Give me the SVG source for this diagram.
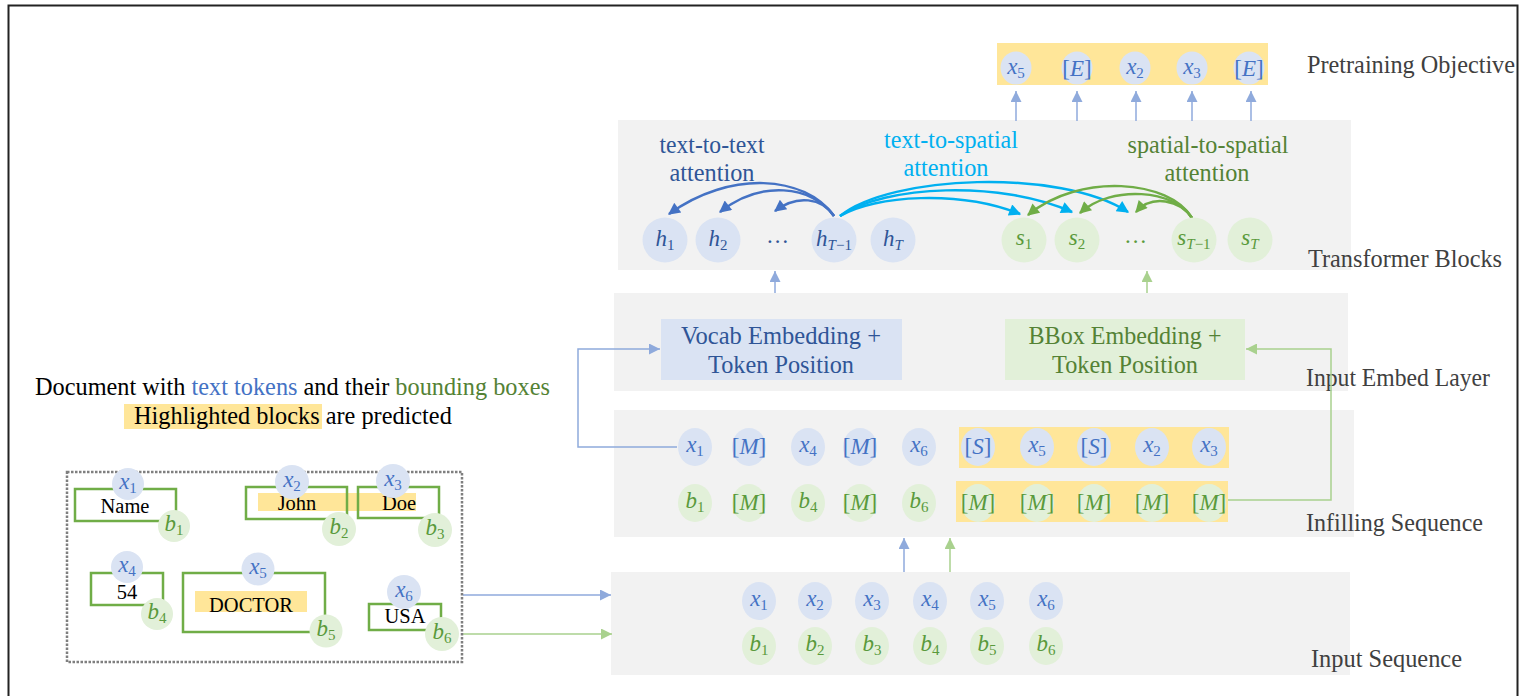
<svg xmlns="http://www.w3.org/2000/svg" width="1524" height="696" viewBox="0 0 1524 696">
<defs>
<style>
.lbl{font-family:"Liberation Serif","Times New Roman",serif;font-size:25px;fill:#404040}
.gbox{fill:#F2F2F2}
.cb{fill:#DAE3F3}
.cg{fill:#E2F0D9}
.m{font-family:"Liberation Serif","Times New Roman",serif;font-style:italic;font-size:23px;text-anchor:middle}
.tb{fill:#4472C4}
.td{fill:#2F5597}
.tg{fill:#5A9A3C}
.s{font-size:15px;font-style:normal}
.si{font-size:15px;font-style:italic}
.n{font-style:normal}
.yl{fill:#FFE699}
.bx{fill:none;stroke:#70AD47;stroke-width:2.5}
.doc{font-family:"Liberation Serif","Times New Roman",serif;font-size:20.5px;fill:#000;text-anchor:middle}
.att{font-family:"Liberation Serif","Times New Roman",serif;font-size:26px;text-anchor:middle}
.emb{font-family:"Liberation Serif","Times New Roman",serif;font-size:26px;text-anchor:middle}
.cap{font-family:"Liberation Serif","Times New Roman",serif;font-size:24.3px;fill:#000}
.lb{fill:none;stroke:#8FAADC;stroke-width:1.5}
.lg{fill:none;stroke:#A9D18E;stroke-width:1.5}
.at{fill:none;stroke:#4472C4;stroke-width:2.5}
.ac{fill:none;stroke:#00B0F0;stroke-width:2.5}
.as{fill:none;stroke:#70AD47;stroke-width:2.5}
</style>
<marker id="mB" viewBox="0 0 10 10" refX="10" refY="5" markerWidth="11" markerHeight="11" markerUnits="userSpaceOnUse" orient="auto"><path d="M0,0 L10,5 L0,10 z" fill="#8FAADC"/></marker>
<marker id="mG" viewBox="0 0 10 10" refX="10" refY="5" markerWidth="11" markerHeight="11" markerUnits="userSpaceOnUse" orient="auto"><path d="M0,0 L10,5 L0,10 z" fill="#A9D18E"/></marker>
<marker id="aT" viewBox="0 0 10 10" refX="9" refY="5" markerWidth="14" markerHeight="12" markerUnits="userSpaceOnUse" orient="auto"><path d="M0,0 L10,5 L0,10 z" fill="#4472C4"/></marker>
<marker id="aC" viewBox="0 0 10 10" refX="9" refY="5" markerWidth="14" markerHeight="12" markerUnits="userSpaceOnUse" orient="auto"><path d="M0,0 L10,5 L0,10 z" fill="#00B0F0"/></marker>
<marker id="aS" viewBox="0 0 10 10" refX="9" refY="5" markerWidth="14" markerHeight="12" markerUnits="userSpaceOnUse" orient="auto"><path d="M0,0 L10,5 L0,10 z" fill="#70AD47"/></marker>
</defs>
<rect x="0" y="0" width="1524" height="696" fill="#FFFFFF"/>
<rect x="8.5" y="5.5" width="1509" height="720" fill="none" stroke="#222" stroke-width="2"/>

<g id="transformer-blocks">
<rect class="gbox" x="618" y="120" width="733" height="150"/>
<text class="lbl" x="1308" y="267" textLength="194" lengthAdjust="spacingAndGlyphs">Transformer Blocks</text>
</g>
<g id="input-embed-layer">
<rect class="gbox" x="614" y="293" width="734" height="98"/>
<text class="lbl" x="1306" y="386" textLength="184" lengthAdjust="spacingAndGlyphs">Input Embed Layer</text>
</g>
<g id="infilling-sequence">
<rect class="gbox" x="614" y="410" width="740" height="127"/>
<rect class="yl" x="959" y="427" width="270" height="41"/>
<rect class="yl" x="956" y="481" width="272" height="41"/>
<text class="lbl" x="1306" y="531" textLength="177" lengthAdjust="spacingAndGlyphs">Infilling Sequence</text>
</g>
<g id="input-sequence">
<rect class="gbox" x="611" y="572" width="739" height="103"/>
<text class="lbl" x="1311" y="667" textLength="151" lengthAdjust="spacingAndGlyphs">Input Sequence</text>
</g>

<g id="connectors">
<path class="lb" d="M1016,121 V91" marker-end="url(#mB)"/>
<path class="lb" d="M1077,121 V91" marker-end="url(#mB)"/>
<path class="lb" d="M1136,121 V91" marker-end="url(#mB)"/>
<path class="lb" d="M1192,121 V91" marker-end="url(#mB)"/>
<path class="lb" d="M1251,121 V91" marker-end="url(#mB)"/>
<path class="lb" d="M775,293 V271" marker-end="url(#mB)"/>
<path class="lg" d="M1147,293 V271" marker-end="url(#mG)"/>
<path class="lb" d="M677,447 H578 V349 H660" marker-end="url(#mB)"/>
<path class="lg" d="M1228,500 H1331 V349 H1246" marker-end="url(#mG)"/>
<path class="lb" d="M904,572 V538" marker-end="url(#mB)"/>
<path class="lg" d="M950,572 V538" marker-end="url(#mG)"/>
<path class="lb" d="M463,595 H611" marker-end="url(#mB)"/>
<path class="lg" d="M463,634 H612" marker-end="url(#mG)"/>
<path class="at" d="M834,216 C805,175 730,170 669,214" marker-end="url(#aT)"/>
<path class="at" d="M834,216 C812,185 760,180 720,212" marker-end="url(#aT)"/>
<path class="at" d="M834,216 C822,198 797,194 775,211" marker-end="url(#aT)"/>
<path class="ac" d="M840,216 C875,195 960,190 1020,214" marker-end="url(#aC)"/>
<path class="ac" d="M840,216 C885,185 1000,180 1072,212" marker-end="url(#aC)"/>
<path class="ac" d="M840,216 C890,175 1060,168 1128,212" marker-end="url(#aC)"/>
<path class="as" d="M1192,218 C1180,200 1152,194 1136,212" marker-end="url(#aS)"/>
<path class="as" d="M1192,218 C1175,190 1112,184 1080,213" marker-end="url(#aS)"/>
<path class="as" d="M1192,218 C1170,180 1080,172 1028,215" marker-end="url(#aS)"/>
</g>

<g id="pretraining-objective">
<rect class="yl" x="997" y="43" width="271" height="42"/>
<ellipse class="cb" cx="1016" cy="68" rx="15.5" ry="16.5"/>
<ellipse class="cb" cx="1077" cy="68" rx="15.5" ry="16.5"/>
<ellipse class="cb" cx="1135" cy="68" rx="15.5" ry="16.5"/>
<ellipse class="cb" cx="1192" cy="68" rx="15.5" ry="16.5"/>
<ellipse class="cb" cx="1249" cy="68" rx="15.5" ry="16.5"/>
<text class="m tb" x="1016" y="74">x<tspan class="s" dy="4">5</tspan></text>
<text class="m tb" x="1077" y="76" font-size="21"><tspan class="n">[</tspan>E<tspan class="n">]</tspan></text>
<text class="m tb" x="1135" y="74">x<tspan class="s" dy="4">2</tspan></text>
<text class="m tb" x="1192" y="74">x<tspan class="s" dy="4">3</tspan></text>
<text class="m tb" x="1249" y="76" font-size="21"><tspan class="n">[</tspan>E<tspan class="n">]</tspan></text>
<text class="lbl" x="1307" y="73" textLength="208" lengthAdjust="spacingAndGlyphs">Pretraining Objective</text>
</g>

<g id="label-text-to-text">
<text class="att td" x="712" y="153" textLength="105" lengthAdjust="spacingAndGlyphs">text-to-text</text>
<text class="att td" x="712" y="181" textLength="85" lengthAdjust="spacingAndGlyphs">attention</text>
</g>
<g id="label-text-to-spatial">
<text class="att" fill="#00B0F0" x="951" y="148" textLength="134" lengthAdjust="spacingAndGlyphs">text-to-spatial</text>
<text class="att" fill="#00B0F0" x="946" y="176" textLength="85" lengthAdjust="spacingAndGlyphs">attention</text>
</g>
<g id="label-spatial-to-spatial">
<text class="att" fill="#548235" x="1208" y="153" textLength="161" lengthAdjust="spacingAndGlyphs">spatial-to-spatial</text>
<text class="att" fill="#548235" x="1207" y="181" textLength="85" lengthAdjust="spacingAndGlyphs">attention</text>
</g>

<g id="h-states">
<circle class="cb" cx="665" cy="240" r="22.5"/>
<circle class="cb" cx="718" cy="240" r="22.5"/>
<circle class="cb" cx="834" cy="240" r="22.5"/>
<circle class="cb" cx="893" cy="240" r="22.5"/>
<text class="m td" x="665" y="246" font-size="24">h<tspan class="s" dy="4">1</tspan></text>
<text class="m td" x="718" y="246" font-size="24">h<tspan class="s" dy="4">2</tspan></text>
<text class="m td" x="778" y="243" font-size="22">…</text>
<text class="m td" x="834" y="246" font-size="24">h<tspan class="si" dy="4">T</tspan><tspan class="s">−1</tspan></text>
<text class="m td" x="893" y="246" font-size="24">h<tspan class="si" dy="4">T</tspan></text>
</g>
<g id="s-states">
<circle class="cg" cx="1024" cy="240" r="22.5"/>
<circle class="cg" cx="1077" cy="240" r="22.5"/>
<circle class="cg" cx="1194" cy="240" r="22.5"/>
<circle class="cg" cx="1250" cy="240" r="22.5"/>
<text class="m tg" x="1024" y="245" font-size="24">s<tspan class="s" dy="4">1</tspan></text>
<text class="m tg" x="1077" y="245" font-size="24">s<tspan class="s" dy="4">2</tspan></text>
<text class="m tg" x="1136" y="243" font-size="22">…</text>
<text class="m tg" x="1194" y="245" font-size="24">s<tspan class="si" dy="4">T</tspan><tspan class="s">−1</tspan></text>
<text class="m tg" x="1250" y="245" font-size="24">s<tspan class="si" dy="4">T</tspan></text>
</g>

<g id="vocab-embedding">
<rect class="cb" x="661" y="319" width="241" height="61"/>
<text class="emb td" x="781" y="344" textLength="200" lengthAdjust="spacingAndGlyphs">Vocab Embedding +</text>
<text class="emb td" x="781" y="373" textLength="146" lengthAdjust="spacingAndGlyphs">Token Position</text>
</g>
<g id="bbox-embedding">
<rect class="cg" x="1005" y="319" width="240" height="61"/>
<text class="emb" fill="#548235" x="1125" y="344" textLength="193" lengthAdjust="spacingAndGlyphs">BBox Embedding +</text>
<text class="emb" fill="#548235" x="1125" y="373" textLength="146" lengthAdjust="spacingAndGlyphs">Token Position</text>
</g>

<g id="infill-text-row">
<ellipse class="cb" cx="695" cy="447" rx="17" ry="19"/>
<ellipse class="cb" cx="749" cy="447" rx="17" ry="19"/>
<ellipse class="cb" cx="808" cy="447" rx="17" ry="19"/>
<ellipse class="cb" cx="860" cy="447" rx="17" ry="19"/>
<ellipse class="cb" cx="919" cy="447" rx="17" ry="19"/>
<ellipse class="cb" cx="978" cy="447" rx="17" ry="19"/>
<ellipse class="cb" cx="1037" cy="447" rx="17" ry="19"/>
<ellipse class="cb" cx="1094" cy="447" rx="17" ry="19"/>
<ellipse class="cb" cx="1152" cy="447" rx="17" ry="19"/>
<ellipse class="cb" cx="1209" cy="447" rx="17" ry="19"/>
<text class="m tb" x="695" y="452">x<tspan class="s" dy="4">1</tspan></text>
<text class="m tb" x="749" y="454" font-size="21"><tspan class="n">[</tspan>M<tspan class="n">]</tspan></text>
<text class="m tb" x="808" y="452">x<tspan class="s" dy="4">4</tspan></text>
<text class="m tb" x="860" y="454" font-size="21"><tspan class="n">[</tspan>M<tspan class="n">]</tspan></text>
<text class="m tb" x="919" y="452">x<tspan class="s" dy="4">6</tspan></text>
<text class="m tb" x="978" y="454" font-size="21"><tspan class="n">[</tspan>S<tspan class="n">]</tspan></text>
<text class="m tb" x="1037" y="452">x<tspan class="s" dy="4">5</tspan></text>
<text class="m tb" x="1094" y="454" font-size="21"><tspan class="n">[</tspan>S<tspan class="n">]</tspan></text>
<text class="m tb" x="1152" y="452">x<tspan class="s" dy="4">2</tspan></text>
<text class="m tb" x="1209" y="452">x<tspan class="s" dy="4">3</tspan></text>
</g>
<g id="infill-bbox-row">
<ellipse class="cg" cx="695" cy="503" rx="17" ry="19"/>
<ellipse class="cg" cx="749" cy="503" rx="17" ry="19"/>
<ellipse class="cg" cx="808" cy="503" rx="17" ry="19"/>
<ellipse class="cg" cx="860" cy="503" rx="17" ry="19"/>
<ellipse class="cg" cx="919" cy="503" rx="17" ry="19"/>
<ellipse class="cg" cx="978" cy="503" rx="17" ry="19"/>
<ellipse class="cg" cx="1037" cy="503" rx="17" ry="19"/>
<ellipse class="cg" cx="1094" cy="503" rx="17" ry="19"/>
<ellipse class="cg" cx="1152" cy="503" rx="17" ry="19"/>
<ellipse class="cg" cx="1209" cy="503" rx="17" ry="19"/>
<text class="m tg" x="695" y="508">b<tspan class="s" dy="4">1</tspan></text>
<text class="m tg" x="749" y="510" font-size="21"><tspan class="n">[</tspan>M<tspan class="n">]</tspan></text>
<text class="m tg" x="808" y="508">b<tspan class="s" dy="4">4</tspan></text>
<text class="m tg" x="860" y="510" font-size="21"><tspan class="n">[</tspan>M<tspan class="n">]</tspan></text>
<text class="m tg" x="919" y="508">b<tspan class="s" dy="4">6</tspan></text>
<text class="m tg" x="978" y="510" font-size="21"><tspan class="n">[</tspan>M<tspan class="n">]</tspan></text>
<text class="m tg" x="1037" y="510" font-size="21"><tspan class="n">[</tspan>M<tspan class="n">]</tspan></text>
<text class="m tg" x="1094" y="510" font-size="21"><tspan class="n">[</tspan>M<tspan class="n">]</tspan></text>
<text class="m tg" x="1152" y="510" font-size="21"><tspan class="n">[</tspan>M<tspan class="n">]</tspan></text>
<text class="m tg" x="1209" y="510" font-size="21"><tspan class="n">[</tspan>M<tspan class="n">]</tspan></text>
</g>

<g id="input-text-row">
<ellipse class="cb" cx="759" cy="601" rx="17" ry="19"/>
<ellipse class="cb" cx="815" cy="601" rx="17" ry="19"/>
<ellipse class="cb" cx="872" cy="601" rx="17" ry="19"/>
<ellipse class="cb" cx="930" cy="601" rx="17" ry="19"/>
<ellipse class="cb" cx="987" cy="601" rx="17" ry="19"/>
<ellipse class="cb" cx="1046" cy="601" rx="17" ry="19"/>
<text class="m tb" x="759" y="606">x<tspan class="s" dy="4">1</tspan></text>
<text class="m tb" x="815" y="606">x<tspan class="s" dy="4">2</tspan></text>
<text class="m tb" x="872" y="606">x<tspan class="s" dy="4">3</tspan></text>
<text class="m tb" x="930" y="606">x<tspan class="s" dy="4">4</tspan></text>
<text class="m tb" x="987" y="606">x<tspan class="s" dy="4">5</tspan></text>
<text class="m tb" x="1046" y="606">x<tspan class="s" dy="4">6</tspan></text>
</g>
<g id="input-bbox-row">
<ellipse class="cg" cx="759" cy="646" rx="17" ry="19"/>
<ellipse class="cg" cx="815" cy="646" rx="17" ry="19"/>
<ellipse class="cg" cx="872" cy="646" rx="17" ry="19"/>
<ellipse class="cg" cx="930" cy="646" rx="17" ry="19"/>
<ellipse class="cg" cx="987" cy="646" rx="17" ry="19"/>
<ellipse class="cg" cx="1046" cy="646" rx="17" ry="19"/>
<text class="m tg" x="759" y="651">b<tspan class="s" dy="4">1</tspan></text>
<text class="m tg" x="815" y="651">b<tspan class="s" dy="4">2</tspan></text>
<text class="m tg" x="872" y="651">b<tspan class="s" dy="4">3</tspan></text>
<text class="m tg" x="930" y="651">b<tspan class="s" dy="4">4</tspan></text>
<text class="m tg" x="987" y="651">b<tspan class="s" dy="4">5</tspan></text>
<text class="m tg" x="1046" y="651">b<tspan class="s" dy="4">6</tspan></text>
</g>

<g id="document-caption">
<text class="cap" x="35" y="395">Document with <tspan fill="#4472C4">text tokens</tspan> and their <tspan fill="#548235">bounding boxes</tspan></text>
<rect class="yl" x="124" y="404" width="198" height="25"/>
<text class="cap" x="134" y="424">Highlighted blocks are predicted</text>
</g>

<g id="document">
<rect x="67" y="472" width="395" height="190" fill="none" stroke="#7F7F7F" stroke-width="2.5" stroke-dasharray="2.5 1.5"/>
<rect class="yl" x="258" y="493" width="158" height="18"/>
<rect class="yl" x="195" y="591" width="112" height="21"/>
<rect class="bx" x="75" y="489" width="101" height="32"/>
<rect class="bx" x="246" y="487" width="101" height="32"/>
<rect class="bx" x="358" y="487" width="81" height="31"/>
<rect class="bx" x="91" y="573" width="72" height="32"/>
<rect class="bx" x="183" y="573" width="142" height="59"/>
<rect class="bx" x="369" y="604" width="72" height="26"/>
<text class="doc" x="125" y="513">Name</text>
<text class="doc" x="297" y="510">John</text>
<text class="doc" x="399" y="510">Doe</text>
<text class="doc" x="127" y="599">54</text>
<text class="doc" x="251" y="612" font-size="23.5">DOCTOR</text>
<text class="doc" x="405" y="623" font-size="18.5">USA</text>
<circle class="cb" cx="128" cy="484" r="16"/>
<circle class="cg" cx="174" cy="526" r="16"/>
<circle class="cb" cx="292" cy="482" r="17"/>
<circle class="cg" cx="339" cy="529" r="17"/>
<circle class="cb" cx="393" cy="481" r="17"/>
<circle class="cg" cx="435" cy="530" r="17"/>
<circle class="cb" cx="127" cy="567" r="16"/>
<circle class="cg" cx="157" cy="614" r="16"/>
<circle class="cb" cx="258" cy="569" r="16.5"/>
<circle class="cg" cx="326" cy="631" r="16.5"/>
<circle class="cb" cx="404" cy="592" r="17"/>
<circle class="cg" cx="442" cy="634" r="17"/>
<text class="m tb" x="128" y="489">x<tspan class="s" dy="4">1</tspan></text>
<text class="m tg" x="174" y="531">b<tspan class="s" dy="4">1</tspan></text>
<text class="m tb" x="292" y="487">x<tspan class="s" dy="4">2</tspan></text>
<text class="m tg" x="339" y="534">b<tspan class="s" dy="4">2</tspan></text>
<text class="m tb" x="393" y="486">x<tspan class="s" dy="4">3</tspan></text>
<text class="m tg" x="435" y="535">b<tspan class="s" dy="4">3</tspan></text>
<text class="m tb" x="127" y="572">x<tspan class="s" dy="4">4</tspan></text>
<text class="m tg" x="157" y="619">b<tspan class="s" dy="4">4</tspan></text>
<text class="m tb" x="258" y="574">x<tspan class="s" dy="4">5</tspan></text>
<text class="m tg" x="326" y="636">b<tspan class="s" dy="4">5</tspan></text>
<text class="m tb" x="404" y="597">x<tspan class="s" dy="4">6</tspan></text>
<text class="m tg" x="442" y="639">b<tspan class="s" dy="4">6</tspan></text>
</g>
</svg>
